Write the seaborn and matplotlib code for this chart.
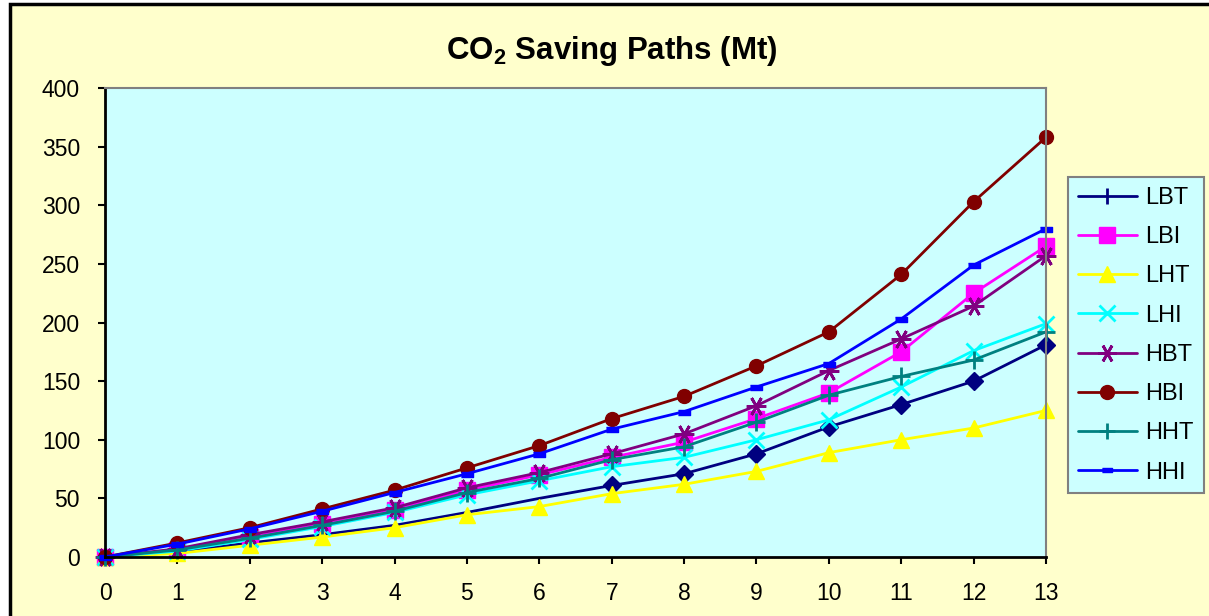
import matplotlib
matplotlib.use("Agg")
import matplotlib.pyplot as plt
import seaborn as sns
from matplotlib.lines import Line2D
from matplotlib.patches import Rectangle

# Data (Mt of CO2 saved per year index)
years = list(range(14))
lbt = [0, 4, 12, 19, 27, 38, 50, 61, 71, 88, 111, 130, 150, 181]
lbi = [0, 6, 17, 28, 40, 57, 70, 85, 98, 118, 140, 175, 225, 265]
lht = [0, 3, 10, 17, 25, 36, 43, 54, 62, 73, 89, 100, 110, 125]
lhi = [0, 5, 15, 26, 38, 53, 65, 77, 85, 100, 117, 145, 176, 199]
hbt = [0, 7, 19, 30, 42, 59, 72, 88, 105, 129, 159, 186, 214, 257]
hbi = [0, 12, 25, 41, 57, 76, 95, 118, 137, 163, 192, 241, 303, 358]
hht = [0, 6, 16, 27, 39, 55, 67, 83, 94, 115, 138, 154, 168, 192]
hhi = [0, 11, 24, 39, 55, 71, 88, 109, 124, 145, 165, 203, 249, 280]

names = ["LBT", "LBI", "LHT", "LHI", "HBT", "HBI", "HHT", "HHI"]
values = [lbt, lbi, lht, lhi, hbt, hbi, hht, hhi]
colors = ["#000080", "#FF00FF", "#FFFF00", "#00FFFF", "#800080", "#800000", "#008080", "#0000FF"]
dash_marker = [(-1, -0.45), (1, -0.45), (1, 0.45), (-1, 0.45)]
asterisk = (6, 2, 90)
markers = ["D", "s", "^", "x", asterisk, "o", "+", dash_marker]
sizes = [9, 11, 11, 11, 14, 10, 13, 8]
stroked = ["x", "+", "|", asterisk]

sns.set_style("white")
plt.rcParams['font.family'] = ['Liberation Sans', 'DejaVu Sans']
plt.rcParams['text.color'] = 'black'
plt.rcParams['xtick.color'] = 'black'
plt.rcParams['ytick.color'] = 'black'
plt.rcParams['mathtext.fontset'] = 'custom'
plt.rcParams['mathtext.rm'] = 'Liberation Sans'
plt.rcParams['mathtext.bf'] = 'Liberation Sans:bold'

fig = plt.figure(figsize=(12.09, 6.16), dpi=100)
fig.patch.set_facecolor("white")
# chart area with black frame
fig.patches.append(Rectangle((10 / 1209, -0.2), 1.2, 1.2 - 4 / 616, transform=fig.transFigure,
                             facecolor="#FFFFCC", edgecolor="black", linewidth=2.5, zorder=-10))

ax = fig.add_axes([105 / 1209, 59 / 616, 941 / 1209, 469 / 616])
ax.set_facecolor("#CCFFFF")

for name, vals, c, m, s in zip(names, values, colors, markers, sizes):
    kw = dict(markevery=list(range(7, 14))) if name == "LBT" else {}
    sns.lineplot(x=years, y=vals, ax=ax, color=c, marker=m, markersize=s,
                 markeredgecolor=c, markerfacecolor=c,
                 markeredgewidth=2 if m in stroked else 1,
                 linewidth=2, clip_on=False, legend=False, **kw)

ax.set_xlim(0, 13)
ax.set_ylim(0, 400)
ax.set_xticks(years)
ax.set_yticks(range(0, 401, 50))
ax.set_xlabel("")
ax.set_ylabel("")
ax.tick_params(axis="both", direction="out", length=5, width=1.5, color="black",
               labelcolor="black", labelsize=16.5, left=True, bottom=True)
ax.tick_params(axis="x", pad=13)
ax.tick_params(axis="y", pad=13)
for side in ["left", "bottom"]:
    ax.spines[side].set_color("black")
    ax.spines[side].set_linewidth(2)
for side in ["top", "right"]:
    ax.spines[side].set_color("#808080")
    ax.spines[side].set_linewidth(1.5)

fig.text(612 / 1209, 0.918, r"CO$_{\mathbf{2}}$ Saving Paths (Mt)", ha="center", va="center",
         fontsize=22.5, fontweight="bold", color="black")

legend_markers = ["|", "s", "^", "x", asterisk, "o", "+", dash_marker]
legend_sizes = [11, 11, 11, 11, 13, 10, 11, 7]
handles = [Line2D([], [], color=c, marker=m, markersize=s, markerfacecolor=c, markeredgecolor=c,
                  markeredgewidth=2 if m in stroked else 1, linewidth=2)
           for c, m, s in zip(colors, legend_markers, legend_sizes)]
leg = fig.legend(handles, names, loc="upper left", bbox_to_anchor=(1068 / 1209, 1 - 177 / 616),
                 fontsize=17, frameon=True, fancybox=False, framealpha=1, facecolor="#CCFFFF",
                 edgecolor="#808080", handlelength=2.5, handletextpad=0.35, labelspacing=0.73,
                 borderpad=0.42, borderaxespad=0, labelcolor="black")
leg.get_frame().set_linewidth(1.5)

fig.savefig("out.png", dpi=100, facecolor=fig.get_facecolor())
